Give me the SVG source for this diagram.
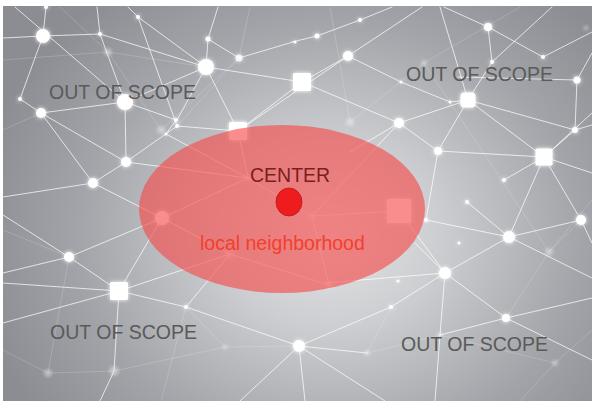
<svg xmlns="http://www.w3.org/2000/svg" width="592" height="401" viewBox="0 0 592 401">
  <defs>
    <radialGradient id="bg" gradientUnits="userSpaceOnUse" cx="330" cy="235" r="360" gradientTransform="translate(330 235) scale(1 0.85) translate(-330 -235)">
      <stop offset="0" stop-color="#e4e4e6"/>
      <stop offset="0.3" stop-color="#cdced1"/>
      <stop offset="0.7" stop-color="#a2a4a9"/>
      <stop offset="1" stop-color="#8b8d93"/>
    </radialGradient>
    <filter id="glow" x="-100%" y="-100%" width="300%" height="300%">
      <feGaussianBlur in="SourceGraphic" stdDeviation="2.2" result="b"/>
      <feMerge><feMergeNode in="b"/><feMergeNode in="SourceGraphic"/></feMerge>
    </filter>
    <filter id="soft" x="-100%" y="-100%" width="300%" height="300%">
      <feGaussianBlur stdDeviation="1.6"/>
    </filter>
    <style>
      .lk { stroke: #ffffff; stroke-width: 1; stroke-opacity: 0.72; fill: none; stroke-linecap: round; }
      .fl { stroke: #ffffff; stroke-width: 0.8; stroke-opacity: 0.22; fill: none; }
      .dot { fill: #ffffff; }
      .faint { fill: #ffffff; opacity: 0.35; }
      .lbl { font-family: "Liberation Sans", Arial, sans-serif; font-size: 19.5px; }
      .out { fill: #5a5a5a; }
    </style>
  </defs>

  <!-- backdrop -->
  <rect x="0" y="0" width="592" height="401" fill="#ffffff"/>
  <rect x="3" y="6" width="589" height="395" fill="url(#bg)"/>

  <!-- network connectors -->
  <g id="links">
    <g class="fl">
      <path d="M3 60 L108 52 L206 67"/>
      <path d="M60 7 L108 52 L161 130"/>
      <path d="M250 7 L239 58 L161 130"/>
      <path d="M330 7 L350 122 L424 63 L520 7"/>
      <path d="M424 63 L549 252 L592 200"/>
      <path d="M592 330 L555 363 L440 335 L367 353"/>
      <path d="M555 363 L520 401"/>
      <path d="M3 350 L48 373 L114 371 L225 347 L299 346"/>
      <path d="M225 347 L186 307 L161 401"/>
      <path d="M3 230 L69 257 L48 373"/>
      <path d="M549 252 L506 318"/>
      <path d="M3 130 L41 113"/>
      <path d="M177 126 L239 58"/>
      <path d="M367 353 L391 307"/>
      <path d="M549 252 L581 220"/>
    </g>
    <g class="lk">
      <path d="M3 38 L43 36 L100 34 L206 67 L302 82"/>
      <path d="M43 36 L46 7"/>
      <path d="M43 36 L20 99 L41 113"/>
      <path d="M15 7 L125 102"/>
      <path d="M100 34 L97 7"/>
      <path d="M100 34 L125 102"/>
      <path d="M128 7 L138 17 L177 126"/>
      <path d="M138 17 L206 67"/>
      <path d="M218 7 L208 39 L206 67"/>
      <path d="M208 39 L239 58 L293 42"/>
      <path d="M206 67 L177 120"/>
      <path d="M206 67 L238 131"/>
      <path d="M206 67 L125 102"/>
      <path d="M125 102 L41 113 L126 162"/>
      <path d="M125 102 L176 120 L166 134 L248 178"/>
      <path d="M125 102 L126 162 L93 183 L3 197"/>
      <path d="M41 113 L93 183"/>
      <path d="M126 162 L177 126 L238 131"/>
      <path d="M126 162 L248 178"/>
      <path d="M93 183 L162 218"/>
      <path d="M238 131 L348 56"/>
      <path d="M238 131 L302 82"/>
      <path d="M292 42 L317 36 L360 20 L392 7"/>
      <path d="M348 56 L422 7"/>
      <path d="M302 82 L348 56 L401 82 L450 102 L468 100"/>
      <path d="M302 82 L399 123 L468 100"/>
      <path d="M399 123 L438 151"/>
      <path d="M399 123 L350 152"/>
      <path d="M468 100 L440 7"/>
      <path d="M468 100 L492 62 L488 27 L444 7"/>
      <path d="M468 100 L544 157"/>
      <path d="M468 100 L438 151"/>
      <path d="M468 100 L575 130"/>
      <path d="M488 27 L543 57 L592 32"/>
      <path d="M492 62 L552 7"/>
      <path d="M458 77 L577 80 L575 130 L544 157"/>
      <path d="M577 80 L592 53"/>
      <path d="M575 130 L592 125"/>
      <path d="M438 151 L544 157 L504 180"/>
      <path d="M544 157 L592 173"/>
      <path d="M544 157 L592 113"/>
      <path d="M438 151 L426 220"/>
      <path d="M467 202 L509 237 L426 220"/>
      <path d="M509 237 L581 220 L544 157 L509 237"/>
      <path d="M509 237 L445 273"/>
      <path d="M509 237 L592 278"/>
      <path d="M581 220 L592 243"/>
      <path d="M415 243 L445 273 L506 318 L592 298"/>
      <path d="M325 283 L445 273"/>
      <path d="M445 273 L391 307 L299 346"/>
      <path d="M445 273 L440 335 L435 401"/>
      <path d="M506 318 L440 335"/>
      <path d="M506 318 L592 360"/>
      <path d="M299 346 L367 353"/>
      <path d="M299 346 L305 401"/>
      <path d="M299 346 L385 401"/>
      <path d="M299 346 L186 307 L119 291 L69 257 L3 273"/>
      <path d="M299 346 L240 401"/>
      <path d="M3 215 L69 257 L162 218"/>
      <path d="M119 291 L162 218"/>
      <path d="M119 291 L3 283"/>
      <path d="M119 291 L3 323"/>
      <path d="M119 291 L114 371 L100 401"/>
      <path d="M119 291 L230 254"/>
      <path d="M186 307 L230 254"/>
      <path d="M162 218 L248 178 L312 216 L399 211"/>
      <path d="M162 218 L230 254 L329 285"/>
      <path d="M312 216 L329 285"/>
      <path d="M248 178 L238 131"/>
      <path d="M312 216 L399 123"/>
      <path d="M399 211 L445 273"/>
    </g>
  </g>

  <!-- network nodes -->
  <g id="nodes">
    <g class="faint" filter="url(#soft)">
      <circle cx="108" cy="52" r="4"/>
      <circle cx="161" cy="130" r="4"/>
      <circle cx="350" cy="122" r="4"/>
      <circle cx="424" cy="63" r="3"/>
      <circle cx="549" cy="252" r="4"/>
      <circle cx="367" cy="353" r="3"/>
      <circle cx="440" cy="335" r="3"/>
      <circle cx="555" cy="363" r="3"/>
      <circle cx="48" cy="373" r="4"/>
      <circle cx="114" cy="371" r="5"/>
      <circle cx="225" cy="347" r="2.5"/>
      <circle cx="329" cy="285" r="4"/>
      <circle cx="248" cy="178" r="4"/>
      <circle cx="312" cy="216" r="4"/>
      <circle cx="230" cy="254" r="5"/>
      <circle cx="586" cy="28" r="2.5"/>
    </g>
    <g class="dot" filter="url(#glow)">
      <circle cx="43" cy="36" r="7"/>
      <circle cx="100" cy="34" r="2"/>
      <circle cx="46" cy="7" r="2"/>
      <circle cx="138" cy="17" r="2"/>
      <circle cx="208" cy="39" r="2.5"/>
      <circle cx="239" cy="58" r="3.5" opacity="0.8"/>
      <circle cx="206" cy="67" r="8"/>
      <rect x="293" y="73" width="18" height="18" rx="1.5"/>
      <circle cx="20" cy="99" r="2"/>
      <circle cx="41" cy="113" r="5"/>
      <circle cx="125" cy="102" r="8"/>
      <circle cx="176" cy="120" r="2"/>
      <circle cx="177" cy="126" r="2"/>
      <circle cx="166" cy="134" r="1.5"/>
      <rect x="229" y="122" width="18" height="18" rx="1.5"/>
      <circle cx="126" cy="162" r="5"/>
      <circle cx="93" cy="183" r="5"/>
      <circle cx="360" cy="20" r="2"/>
      <circle cx="317" cy="36" r="2.5"/>
      <circle cx="295" cy="42" r="1.5"/>
      <circle cx="348" cy="56" r="5"/>
      <circle cx="488" cy="27" r="4"/>
      <circle cx="492" cy="62" r="2"/>
      <circle cx="543" cy="57" r="2"/>
      <circle cx="577" cy="80" r="3.5"/>
      <circle cx="401" cy="82" r="1.5"/>
      <circle cx="450" cy="102" r="1.5"/>
      <rect x="460.5" y="92.5" width="15" height="15" rx="4"/>
      <circle cx="399" cy="123" r="5"/>
      <circle cx="438" cy="151" r="4"/>
      <rect x="535.5" y="148.5" width="17" height="17" rx="1.5"/>
      <circle cx="575" cy="130" r="3"/>
      <circle cx="504" cy="180" r="2"/>
      <circle cx="467" cy="202" r="2"/>
      <circle cx="426" cy="220" r="2"/>
      <circle cx="509" cy="237" r="6"/>
      <circle cx="581" cy="220" r="5"/>
      <circle cx="445" cy="273" r="6"/>
      <circle cx="459" cy="243" r="1.5"/>
      <circle cx="398" cy="281" r="1.5"/>
      <circle cx="391" cy="307" r="2"/>
      <circle cx="506" cy="318" r="4"/>
      <circle cx="299" cy="346" r="6"/>
      <circle cx="69" cy="257" r="5"/>
      <rect x="110" y="282" width="18" height="18" rx="1.5"/>
      <circle cx="186" cy="307" r="2"/>
      <circle cx="162" cy="218" r="7"/>
      <rect x="387" y="199" width="24" height="24" rx="1.5"/>
    </g>
  </g>

  <!-- neighbourhood around the centre node -->
  <g id="neighborhood">
    <ellipse cx="282" cy="209" rx="143" ry="84" fill="#f54b4b" fill-opacity="0.63"/>
  </g>
  <g id="center">
    <ellipse cx="289" cy="202" rx="13" ry="14" fill="#ee1c1c" stroke="#b51a1a" stroke-width="0.8"/>
    <text class="lbl" x="250" y="182" fill="#7a1e1e">CENTER</text>
  </g>
  <g id="labels">
    <text class="lbl" x="200" y="250" fill="#f2402d">local neighborhood</text>
    <text class="lbl out" x="49" y="99">OUT OF SCOPE</text>
    <text class="lbl out" x="406" y="80.5">OUT OF SCOPE</text>
    <text class="lbl out" x="50" y="338.5">OUT OF SCOPE</text>
    <text class="lbl out" x="401" y="350.5">OUT OF SCOPE</text>
  </g>
</svg>
